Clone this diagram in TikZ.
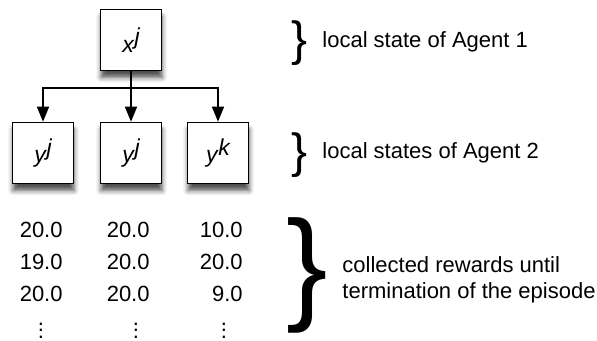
\documentclass[tikz,border=0pt]{standalone}
\usepackage{fontspec}
\setmainfont{Liberation Sans}
\usetikzlibrary{arrows.meta,shadows.blur}

% raised index, same size as the letter
\newcommand{\statelabel}[2]{\textit{#1\kern0.4pt\raisebox{0.32em}{#2}}}
% close vertical dots
\newcommand{\moredots}{\vbox{\baselineskip3pt\lineskiplimit0pt\hbox{.}\hbox{.}\hbox{.}}}

\begin{document}
\begin{tikzpicture}[x=0.5pt, y=0.5pt, >={Triangle[length=7.5pt,width=6pt]},
		state/.style={draw, line width=0.8pt, fill=white, minimum size=30.5pt, inner sep=0pt,
			font=\fontsize{11.5}{13}\selectfont,
			blur shadow={shadow xshift=0.3pt, shadow yshift=-3.5pt, shadow blur radius=2.5pt, shadow opacity=70}},
		reward/.style={anchor=east, inner sep=0pt, font=\fontsize{11}{13}\selectfont},
		note/.style={anchor=west, inner sep=0pt, align=left, font=\fontsize{11}{13}\selectfont},
		bracket/.style={inner sep=0pt}]
		\useasboundingbox (0,0) rectangle (597,341);

		% agent 1
		\node[state] (xj) at (131,301) {\statelabel{x}{j}};

		% agent 2
		\node[state] (yj1) at (43,188) {\statelabel{y}{j}};
		\node[state] (yj2) at (131,188) {\statelabel{y}{j}};
		\node[state] (yk) at (218,188) {\statelabel{y}{k}};

		\coordinate (split) at (131,253);
		\draw[->, line width=0.75pt] (xj.south) -- (yj2.north);
		\draw[->, line width=0.75pt] (split) -| (yj1.north);
		\draw[->, line width=0.75pt] (split) -| (yk.north);

		% rewards
		\foreach \a/\b/\c [count=\r] in {20.0/20.0/10.0, 19.0/20.0/20.0, 20.0/20.0/9.0} {
			\node[reward] (ra\r) at (63,143-32*\r) {\a};
			\node[reward] (rb\r) at (150,143-32*\r) {\b};
			\node[reward] (rc\r) at (243,143-32*\r) {\c};
		}
		\node[reward, anchor=base] (da) at (41,3) {\moredots};
		\node[reward, anchor=base] (db) at (136,3) {\moredots};
		\node[reward, anchor=base] (dc) at (224,3) {\moredots};

		% braces and notes
		\node[bracket, font=\fontsize{24}{24}\selectfont] (b1) at (300,298) {\}};
		\node[note] (agent1) at (322,299) {local state of Agent 1};

		\node[bracket, font=\fontsize{24}{24}\selectfont] (b2) at (300,186) {\}};
		\node[note] (agent2) at (322,188) {local states of Agent 2};

		\node[bracket, font=\fontsize{62}{62}\selectfont] (b3) at (307,66) {\}};
		\node[note] (rewards) at (342,61) {collected rewards until\\termination of the episode};
	\end{tikzpicture}
\end{document}
